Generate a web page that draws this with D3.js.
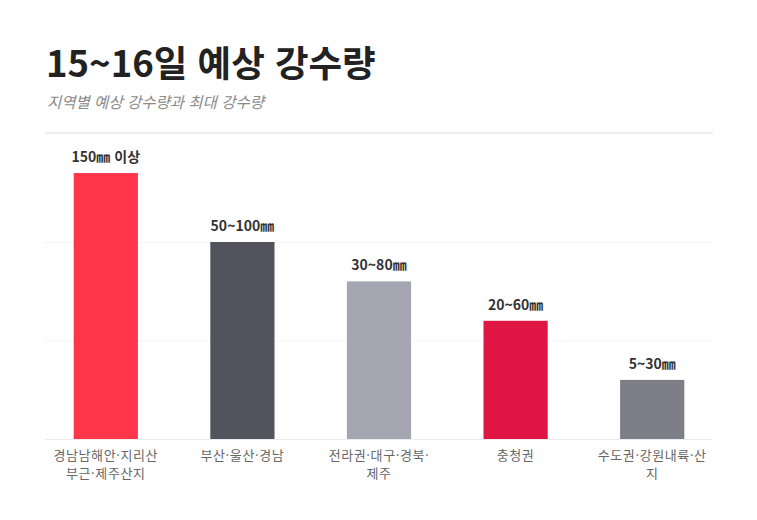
<!DOCTYPE html>
<html lang="ko">
<head>
  <meta charset="UTF-8">
  <title>15~16일 예상 강수량</title>
  <script src="https://d3js.org/d3.v7.min.js"></script>
  <style>
    body { margin: 0; background: #fff; font-family: "Noto Sans CJK KR", "Noto Sans", sans-serif; }
    .title { font-size: 36.5px; font-weight: 700; fill: #222; }
    .subtitle { font-size: 15.5px; font-style: italic; fill: #8a8a8a; }
    .value-label { font-size: 14px; font-weight: 700; fill: #333; text-anchor: middle; }
    .cat-label { font-size: 13px; letter-spacing: 0.6px; fill: #666; text-anchor: middle; }
  </style>
</head>
<body>
  <div id="chart"></div>

  <script>
    // 지역별 데이터
    const categories = ["경남남해안·지리산 부근·제주산지", "부산·울산·경남", "전라권·대구·경북·제주", "충청권", "수도권·강원내륙·산지"];
    const categoryLines = [
      ["경남남해안·지리산", "부근·제주산지"],
      ["부산·울산·경남"],
      ["전라권·대구·경북·", "제주"],
      ["충청권"],
      ["수도권·강원내륙·산", "지"]
    ];
    const barValues = [135, 100, 80, 60, 30];
    const valueLabels = ["150㎜ 이상", "50~100㎜", "30~80㎜", "20~60㎜", "5~30㎜"];
    const gridTicks = [0, 50, 100];
    const barColors = ["#ff3549", "#53535d", "#a6a6b2", "#df1644", "#7e7e89"];

    const W = 757, H = 520;
    const plotLeft = 45, plotRight = 713, plotTop = 133, plotBottom = 439;

    const svg = d3.select("#chart")
                  .append("svg")
                  .attr("width", W)
                  .attr("height", H);

    svg.append("text")
       .attr("class", "title")
       .attr("x", 46)
       .attr("y", 77)
       .text("15~16일 예상 강수량");

    svg.append("text")
       .attr("class", "subtitle")
       .attr("x", 47)
       .attr("y", 108)
       .text("지역별 예상 강수량과 최대 강수량");

    // 상단 구분선
    svg.append("line")
       .attr("x1", plotLeft).attr("x2", plotRight)
       .attr("y1", plotTop).attr("y2", plotTop)
       .attr("stroke", "#dedede")
       .attr("stroke-width", 1.2);

    const x = d3.scaleBand()
                .domain(categories)
                .range([plotLeft, plotRight])
                .paddingInner(0.53)
                .paddingOuter(0.21);

    const y = d3.scaleLinear()
                .domain([0, 150])
                .range([plotBottom, plotBottom - 150 * 1.97]);

    const color = d3.scaleOrdinal().domain(categories).range(barColors);

    // 그리드
    svg.selectAll(".grid")
       .data(gridTicks)
       .enter()
       .append("line")
       .attr("class", "grid")
       .attr("x1", plotLeft).attr("x2", plotRight)
       .attr("y1", d => y(d) + 0.5).attr("y2", d => y(d) + 0.5)
       .attr("stroke", "#ececec")
       .attr("stroke-dasharray", d => d === 0 ? null : "2,2");

    svg.selectAll(".bar")
       .data(barValues)
       .enter()
       .append("rect")
       .attr("class", "bar")
       .attr("x", (d, i) => x(categories[i]))
       .attr("y", d => y(d))
       .attr("width", x.bandwidth())
       .attr("height", d => y(0) - y(d))
       .attr("fill", (d, i) => color(categories[i]));

    svg.selectAll(".value-label")
       .data(barValues)
       .enter()
       .append("text")
       .attr("class", "value-label")
       .attr("x", (d, i) => x(categories[i]) + x.bandwidth() / 2)
       .attr("y", d => y(d) - 11)
       .text((d, i) => valueLabels[i]);

    // x축 라벨 (두 줄)
    const labels = svg.selectAll(".cat-label")
       .data(categories)
       .enter()
       .append("text")
       .attr("class", "cat-label")
       .attr("x", d => x(d) + x.bandwidth() / 2)
       .attr("y", plotBottom + 21);

    labels.selectAll("tspan")
       .data((d, i) => categoryLines[i])
       .enter()
       .append("tspan")
       .attr("x", function () { return d3.select(this.parentNode).attr("x"); })
       .attr("dy", (d, i) => i === 0 ? 0 : 18)
       .text(d => d);
  </script>
</body>
</html>
